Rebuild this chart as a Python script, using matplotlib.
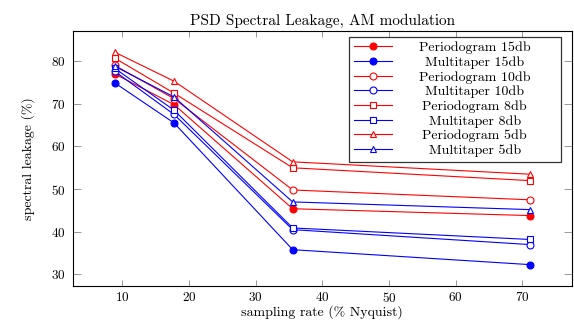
import matplotlib
matplotlib.use("Agg")
import matplotlib.pyplot as plt
from matplotlib.transforms import Affine2D

plt.rcParams['font.family'] = 'serif'
plt.rcParams['font.serif'] = ['cmr10', 'DejaVu Serif']
plt.rcParams['mathtext.fontset'] = 'cm'
plt.rcParams['axes.formatter.use_mathtext'] = True

x = [8.89, 17.78, 35.56, 71.11]
periodogram_15 = [77.0, 69.8, 45.4, 43.8]
multitaper_15 = [74.9, 65.5, 35.8, 32.3]
periodogram_10 = [79.0, 71.2, 49.8, 47.5]
multitaper_10 = [77.6, 67.5, 40.5, 37.0]
periodogram_8 = [80.7, 72.5, 55.0, 52.0]
multitaper_8 = [78.3, 68.5, 40.9, 38.2]
periodogram_5 = [82.1, 75.3, 56.4, 53.5]
multitaper_5 = [78.8, 71.6, 47.0, 45.2]

series = [
    ("Periodogram 15db", periodogram_15, 'red', 'o', True),
    ("Multitaper 15db", multitaper_15, 'blue', 'o', True),
    ("Periodogram 10db", periodogram_10, 'red', 'o', False),
    ("Multitaper 10db", multitaper_10, 'blue', 'o', False),
    ("Periodogram 8db", periodogram_8, 'red', 's', False),
    ("Multitaper 8db", multitaper_8, 'blue', 's', False),
    ("Periodogram 5db", periodogram_5, 'red', '^', False),
    ("Multitaper 5db", multitaper_5, 'blue', '^', False),
]

fig = plt.figure(figsize=(5.74, 3.22), dpi=100)
ax = fig.add_axes([0.127, 0.112, 0.869, 0.792])

for label, y, c, m, filled in series:
    ax.plot(x, y, color=c, marker=m, markersize=5,
            markerfacecolor=c if filled else 'white', markeredgecolor=c,
            markeredgewidth=0.8, linewidth=0.8, label=label)

ax.set_xlim(2.6, 77.4)
ax.set_ylim(27.3, 87.1)
ax.set_xticks([10, 20, 30, 40, 50, 60, 70])
ax.set_yticks([30, 40, 50, 60, 70, 80])
ax.tick_params(direction='in', top=True, right=True, width=0.6,
               color='#888888', labelsize=9.5)
ax.tick_params(axis='x', length=4, pad=3.5)
ax.tick_params(axis='y', length=6, pad=5)
for s in ax.spines.values():
    s.set_linewidth(0.8)
ax.set_title("PSD Spectral Leakage, AM modulation", fontsize=11, pad=4.5)
ax.set_xlabel("sampling rate (% Nyquist)", fontsize=10, labelpad=0)
ax.set_ylabel("spectral leakage (%)", fontsize=10, labelpad=12)

leg = ax.legend(loc='upper left', bbox_to_anchor=(0.553, 0.0, 0.426, 0.977),
                mode='expand', fontsize=10, ncols=1,
                frameon=True, fancybox=False, edgecolor='#333333', framealpha=1,
                handlelength=2.8, borderpad=0.35, labelspacing=0.14,
                handletextpad=0.4, borderaxespad=0)
leg.get_frame().set_linewidth(0.9)

fig.canvas.draw()
r = fig.canvas.get_renderer()
fb = leg.get_frame().get_window_extent(r)
texts = leg.get_texts()
exts = [t.get_window_extent(r) for t in texts]
left = min(e.x0 for e in exts)
right = fb.x1 - 10 * fig.dpi / 100
center = (left + right) / 2
for t, e in zip(texts, exts):
    dx = center - (e.x0 + e.x1) / 2
    t.set_transform(t.get_transform() + Affine2D().translate(dx, 0))

fig.savefig("out.png", dpi=100)
